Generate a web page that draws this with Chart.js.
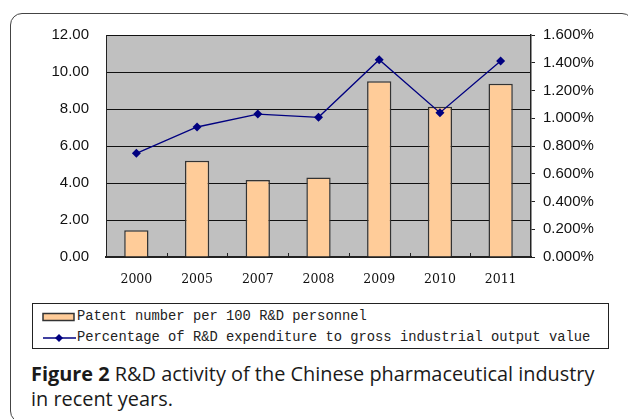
<!DOCTYPE html>
<html>
<head>
<meta charset="utf-8">
<script src="https://cdn.jsdelivr.net/npm/chart.js@4"></script>
<style>
  html, body { margin: 0; padding: 0; background: #fff; }
  body { width: 628px; height: 419px; position: relative; overflow: hidden; }
  #frame {
    position: absolute; left: 10px; top: 13px; width: 624px; height: 410px;
    border: 1.5px solid #444; border-radius: 12px; box-sizing: border-box;
  }
  #barChart { position: absolute; left: 0; top: 0; }
  #legend {
    position: absolute; left: 32px; top: 303px; width: 577px; height: 46px;
    border: 1.5px solid #222; box-sizing: border-box;
    font-family: "Liberation Mono", monospace; font-size: 13.8px; color: #222;
  }
  .row { position: absolute; left: 0; height: 20px; line-height: 20px; white-space: nowrap; }
  .row svg { position: absolute; left: 9px; top: 0; }
  .row span { position: absolute; left: 44px; top: 0; }
  #caption {
    position: absolute; left: 31px; top: 361px; width: 596px; white-space: nowrap;
    font-family: "Open Sans", sans-serif; font-size: 19.9px; line-height: 25px; color: #1a1a1a;
  }
  #caption b { font-weight: 700; }
</style>
</head>
<body>
<div id="frame"></div>
<canvas id="barChart" width="628" height="300"></canvas>
<div id="legend">
  <div class="row" style="top:3px">
    <svg width="34" height="20"><rect x="1" y="6.5" width="31" height="7" fill="#ffcc99" stroke="#333" stroke-width="1.5"/></svg>
    <span>Patent number per 100 R&amp;D personnel</span>
  </div>
  <div class="row" style="top:24px">
    <svg width="34" height="20"><line x1="1" y1="10" x2="34" y2="10" stroke="#000080" stroke-width="1.3"/><polygon points="17,6 21,10 17,14 13,10" fill="#000080"/></svg>
    <span>Percentage of R&amp;D expenditure to gross industrial output value</span>
  </div>
</div>
<div id="caption"><b>Figure 2</b> R&amp;D activity of the Chinese pharmaceutical industry<br>in recent years.</div>
<script>
"use strict";

var years = ['2000', '2005', '2007', '2008', '2009', '2010', '2011'];
var patents = [1.45, 5.2, 4.16, 4.3, 9.5, 8.12, 9.37];
var rdShare = [0.747, 0.937, 1.03, 1.007, 1.422, 1.04, 1.413];

var plotBackground = {
    id: 'plotBackground',
    beforeDraw: function (chart) {
        var a = chart.chartArea, c = chart.ctx;
        c.save();
        c.fillStyle = '#c0c0c0';
        c.fillRect(a.left, a.top, a.right - a.left, a.bottom - a.top);
        c.restore();
    },
    afterDatasetsDraw: function (chart) {
        // small category ticks on the x axis, between the years
        var x = chart.scales.x, c = chart.ctx, b = chart.chartArea.bottom;
        c.save();
        c.strokeStyle = '#222';
        c.lineWidth = 1;
        for (var i = 1; i < years.length; i++) {
            var px = Math.round((x.getPixelForTick(i - 1) + x.getPixelForTick(i)) / 2) + 0.5;
            c.beginPath();
            c.moveTo(px, b);
            c.lineTo(px, b - 4);
            c.stroke();
        }
        c.restore();
    }
};

var ctx = document.getElementById('barChart').getContext('2d');
var myChart = new Chart(ctx, {
    data: {
        labels: years,
        datasets: [{
            type: 'line',
            label: 'Percentage of R&D expenditure to gross industrial output value',
            data: rdShare,
            yAxisID: 'y1',
            borderColor: '#000080',
            backgroundColor: '#000080',
            borderWidth: 1.3,
            pointStyle: 'rectRot',
            pointRadius: 4.5,
            pointBorderWidth: 0,
            tension: 0,
            order: 0
        },
        {
            type: 'bar',
            label: 'Patent number per 100 R&D personnel',
            data: patents,
            yAxisID: 'y',
            backgroundColor: '#ffcc99',
            borderColor: '#333',
            borderWidth: 1.5,
            categoryPercentage: 1,
            barPercentage: 0.4,
            order: 1
        }]
    },
    options: {
        responsive: false,
        devicePixelRatio: 1,
        animation: false,
        layout: { padding: { top: 35, left: 0, right: 0, bottom: 0 } },
        plugins: { legend: { display: false }, tooltip: { enabled: false } },
        scales: {
            x: {
                offset: true,
                grid: { display: false, drawTicks: false },
                border: { display: true, color: '#222', width: 2 },
                ticks: {
                    padding: 15,
                    color: '#111',
                    font: { family: 'DejaVu Serif', size: 12.5 }
                },
                afterFit: function (s) { s.height = 43; }
            },
            y: {
                position: 'left',
                min: 0,
                max: 12,
                grid: { color: '#111', lineWidth: 1, drawTicks: false },
                border: { display: true, color: '#222', width: 1 },
                ticks: {
                    stepSize: 2,
                    padding: 17,
                    color: '#111',
                    font: { family: 'Liberation Sans', size: 15 },
                    callback: function (v) { return v.toFixed(2); }
                },
                afterFit: function (s) { s.width = 106; }
            },
            y1: {
                position: 'right',
                min: 0,
                max: 1.6,
                grid: { drawOnChartArea: false, drawTicks: true, tickLength: 4, color: '#222' },
                border: { display: true, color: '#222', width: 1.5 },
                ticks: {
                    stepSize: 0.2,
                    padding: 8,
                    color: '#111',
                    font: { family: 'Liberation Sans', size: 15 },
                    callback: function (v) { return v.toFixed(3) + '%'; }
                },
                afterFit: function (s) { s.width = 97; }
            }
        }
    },
    plugins: [plotBackground]
});
</script>
</body>
</html>
